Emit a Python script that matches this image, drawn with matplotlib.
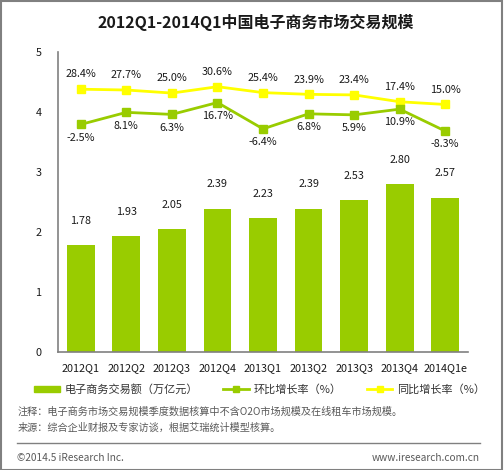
import matplotlib
matplotlib.use('Agg')
import matplotlib.pyplot as plt
from matplotlib.lines import Line2D
from matplotlib.patches import Patch, Rectangle

plt.rcParams['font.family'] = ['Noto Sans CJK SC', 'DejaVu Sans']

quarters = ['2012Q1', '2012Q2', '2012Q3', '2012Q4', '2013Q1',
            '2013Q2', '2013Q3', '2013Q4', '2014Q1e']
volume = [1.78, 1.93, 2.05, 2.39, 2.23, 2.39, 2.53, 2.80, 2.57]
qoq = [-2.5, 8.1, 6.3, 16.7, -6.4, 6.8, 5.9, 10.9, -8.3]
yoy = [28.4, 27.7, 25.0, 30.6, 25.4, 23.9, 23.4, 17.4, 15.0]

GREEN = '#99CC00'
YELLOW = '#FFFF00'
GRAY = '#808080'
TXT = '#1a1a1a'

fig = plt.figure(figsize=(5.04, 4.70), dpi=100)
fig.patches.append(Rectangle((0.001, 0.001), 0.995, 0.997, transform=fig.transFigure,
                             fill=False, edgecolor=GRAY, linewidth=1.5))

ax = fig.add_axes([0.1151, 0.2511, 0.8135, 0.6383])
x = list(range(len(quarters)))
ax.bar(x, volume, width=0.61, color=GREEN)
for xi, v in zip(x, volume):
    ax.annotate(f'{v:.2f}', (xi, v), xytext=(0, 14), textcoords='offset points',
                ha='center', va='bottom', fontsize=7.8, color=TXT)

ax.set_xlim(-0.5, len(quarters) - 0.5)
ax.set_ylim(0, 5)
ax.set_yticks([0, 1, 2, 3, 4, 5])
ax.set_xticks(x)
ax.set_xticklabels(quarters)
ax.tick_params(length=0, labelsize=7.8, colors=TXT, pad=8)
ax.tick_params(axis='y', pad=12)
for s in ['top', 'right']:
    ax.spines[s].set_visible(False)
for s in ['left', 'bottom']:
    ax.spines[s].set_color(GRAY)
    ax.spines[s].set_linewidth(1.2)

# growth rates on a hidden secondary scale
ax2 = ax.twinx()
ax2.set_ylim(-202.1, 61.05)
ax2.axis('off')
ax2.plot(x, yoy, color=YELLOW, linewidth=2, marker='s', markersize=6)
ax2.plot(x, qoq, color=GREEN, linewidth=2, marker='s', markersize=6)
for xi, v in zip(x, yoy):
    ax2.annotate(f'{v:.1f}%', (xi, v), xytext=(0, 7), textcoords='offset points',
                 ha='center', va='bottom', fontsize=7.8, color=TXT)
for xi, v in zip(x, qoq):
    ax2.annotate(f'{v:.1f}%', (xi, v), xytext=(0, -6), textcoords='offset points',
                 ha='center', va='top', fontsize=7.8, color=TXT)

fig.text(0.508, 0.953, '2012Q1-2014Q1中国电子商务市场交易规模', ha='center', va='center',
         fontsize=11.5, fontweight='bold', color=TXT)

handles = [Patch(color=GREEN),
           Line2D([], [], color=GREEN, linewidth=2, marker='s', markersize=5),
           Line2D([], [], color=YELLOW, linewidth=2, marker='s', markersize=5)]
labels = ['电子商务交易额（万亿元）', '环比增长率（%）', '同比增长率（%）']
fig.legend(handles, labels, ncol=3, loc='center', bbox_to_anchor=(0.515, 0.172),
           frameon=False, fontsize=8, handlelength=2.3, handleheight=0.45,
           columnspacing=2.3, handletextpad=0.4, labelcolor='#333333')

note_c = '#595959'
fig.text(0.034, 1 - 412 / 470, '注释：电子商务市场交易规模季度数据核算中不含O2O市场规模及在线租车市场规模。',
         ha='left', va='center', fontsize=7.3, color=note_c)
fig.text(0.034, 1 - 428 / 470, '来源：综合企业财报及专家访谈，根据艾瑞统计模型核算。',
         ha='left', va='center', fontsize=7.3, color=note_c)
fig.add_artist(Line2D([0.034, 0.952], [1 - 443 / 470] * 2, transform=fig.transFigure,
                      color=GRAY, linewidth=1))
fig.text(0.034, 1 - 458 / 470, '©2014.5 iResearch Inc.', ha='left', va='center',
         fontsize=7.3, color=note_c)
fig.text(0.952, 1 - 458 / 470, 'www.iresearch.com.cn', ha='right', va='center',
         fontsize=7.3, color=note_c)

fig.savefig('out.png', dpi=100)
